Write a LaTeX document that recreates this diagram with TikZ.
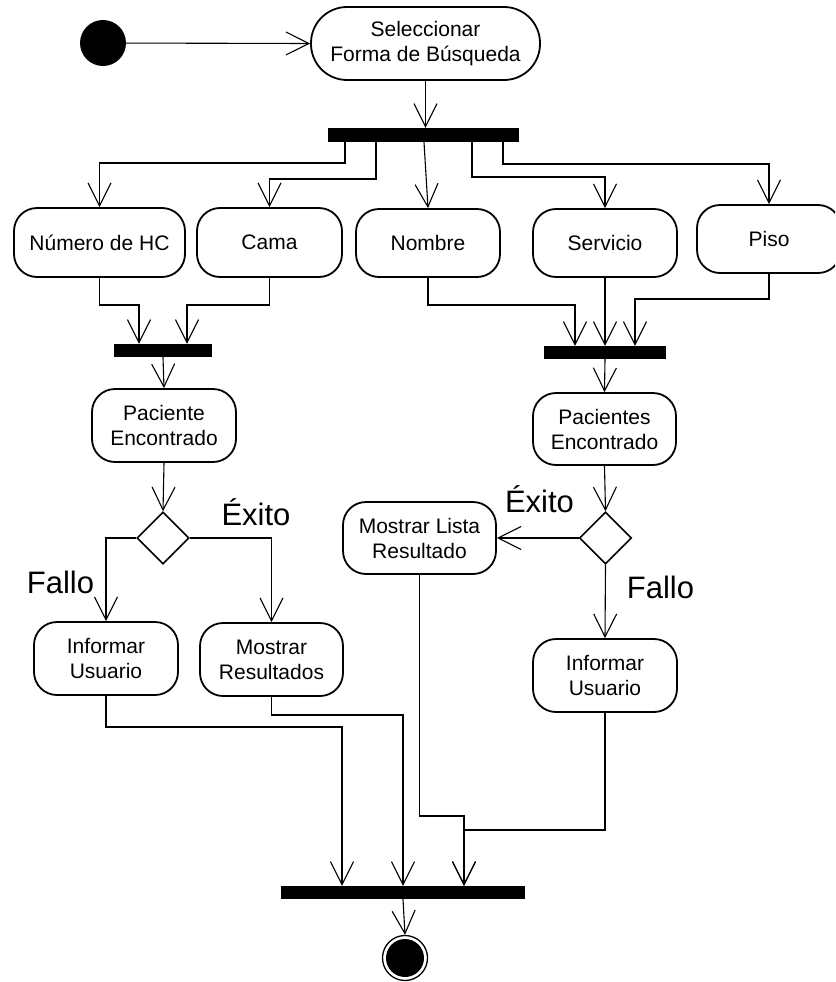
\documentclass[tikz,border=0pt]{standalone}
\usepackage{fontspec}
\setmainfont{Liberation Sans}
\usetikzlibrary{arrows.meta,shapes.geometric}

\begin{document}
\begin{tikzpicture}[x=1pt,y=-1pt,
  flow/.style={draw, line width=1.1pt, -{Straight Barb[length=23pt,width=23pt,line width=1.1pt]}},
  act/.style={draw, line width=1.8pt, rounded corners=23pt, align=center, inner sep=0pt,
              font=\fontsize{21}{25}\selectfont},
  bar/.style={fill=black, draw=none, inner sep=0pt},
  choice/.style={diamond, draw, line width=1.6pt, inner sep=0pt, minimum width=52pt, minimum height=52pt},
  guard/.style={anchor=base, inner sep=0pt, font=\fontsize{31}{35}\selectfont}]
\useasboundingbox (0,0) rectangle (835,982);
\clip (0,0) rectangle (835,982);

% initial and final states
\node[circle, fill=black, inner sep=0pt, minimum size=46pt] (start) at (103,43) {};
\node[circle, draw, line width=1.3pt, inner sep=0pt, minimum size=45pt] (final) at (405,958) {};
\fill (final.center) circle (19pt);

% actions
\node[act, rounded corners=36pt, minimum width=229pt, minimum height=73pt] (sel) at (425.5,43.5) {Seleccionar\\Forma de Búsqueda};
\node[act, minimum width=171pt, minimum height=69pt] (nhc) at (99.5,242.5) {Número de HC};
\node[act, minimum width=145pt, minimum height=69pt] (cama) at (269.5,242.5) {Cama};
\node[act, minimum width=144pt, minimum height=68pt] (nom) at (428,243) {Nombre};
\node[act, minimum width=144pt, minimum height=68pt] (serv) at (605,243) {Servicio};
\node[act, minimum width=144pt, minimum height=68pt] (piso) at (769,239) {Piso};
\node[act, minimum width=144pt, minimum height=73pt] (pac) at (164,425.5) {Paciente\\Encontrado};
\node[act, minimum width=143pt, minimum height=72pt] (pacs) at (604.5,429) {Pacientes\\Encontrado};
\node[act, minimum width=144pt, minimum height=73pt] (inf1) at (106,658.5) {Informar\\Usuario};
\node[act, minimum width=143pt, minimum height=73pt] (mres) at (271.5,659.5) {Mostrar\\Resultados};
\node[act, minimum width=153pt, minimum height=72pt] (lista) at (419.5,538) {Mostrar Lista\\Resultado};
\node[act, minimum width=144pt, minimum height=73pt] (inf2) at (605,675.5) {Informar\\Usuario};

% fork / join bars
\node[bar, minimum width=191pt, minimum height=14pt] (fork1) at (423.5,135) {};
\node[bar, minimum width=98pt, minimum height=13pt] (join1) at (163,350.5) {};
\node[bar, minimum width=122pt, minimum height=13pt] (join2) at (605,352.5) {};
\node[bar, minimum width=244pt, minimum height=13pt] (joinF) at (403,892.5) {};

% decisions
\node[choice] (dec1) at (163,538) {};
\node[choice] (dec2) at (605.5,538) {};

% guards
\node[guard] (g1) at (256,525) {Éxito};
\node[guard] (g2) at (60.5,593) {Fallo};
\node[guard] (g3) at (539.5,512) {Éxito};
\node[guard] (g4) at (660.5,598) {Fallo};

% flows
\draw[flow] (start) -- (sel.west);
\draw[flow] (sel.south) -- (fork1.north -| sel.south);

\draw[flow] (fork1.south -| 345,0) |- (nhc.north |- 0,163) -- (nhc.north);
\draw[flow] (fork1.south -| 376,0) |- (cama.north |- 0,179) -- (cama.north);
\draw[flow] (fork1.south -| 424,0) -- (nom.north);
\draw[flow] (fork1.south -| 472,0) |- (serv.north |- 0,177) -- (serv.north);
\draw[flow] (fork1.south -| 503,0) |- (piso.north |- 0,164) -- (piso.north);

\draw[flow] (nhc.south) -- (nhc.south |- 0,305) -| (join1.north -| 139,0);
\draw[flow] (cama.south) -- (cama.south |- 0,305) -| (join1.north -| 187,0);
\draw[flow] (join1.south) -- (pac.north);

\draw[flow] (nom.south) -- (nom.south |- 0,305) -| (join2.north -| 575,0);
\draw[flow] (serv.south) -- (join2.north -| serv.south);
\draw[flow] (piso.south) -- (piso.south |- 0,299) -| (join2.north -| 635,0);
\draw[flow] (join2.south) -- (pacs.north);

\draw[flow] (pac.south) -- (dec1.north);
\draw[flow] (dec1.west) -| (inf1.north);
\draw[flow] (dec1.east) -| (mres.north);
\draw[flow] (pacs.south) -- (dec2.north);
\draw[flow] (dec2.west) -- (lista.east);
\draw[flow] (dec2.south) -- (inf2.north);

\draw[flow] (inf1.south) -- (inf1.south |- 0,727) -| (joinF.north -| 342,0);
\draw[flow] (mres.south) -- (mres.south |- 0,715) -| (joinF.north -| 403,0);
\draw[flow] (lista.south) -- (lista.south |- 0,816) -| (joinF.north -| 464,0);
\draw[flow] (inf2.south) -- (inf2.south |- 0,830) -| (joinF.north -| 464,0);
\draw[flow] (joinF.south) -- (final.north);
\end{tikzpicture}
\end{document}
